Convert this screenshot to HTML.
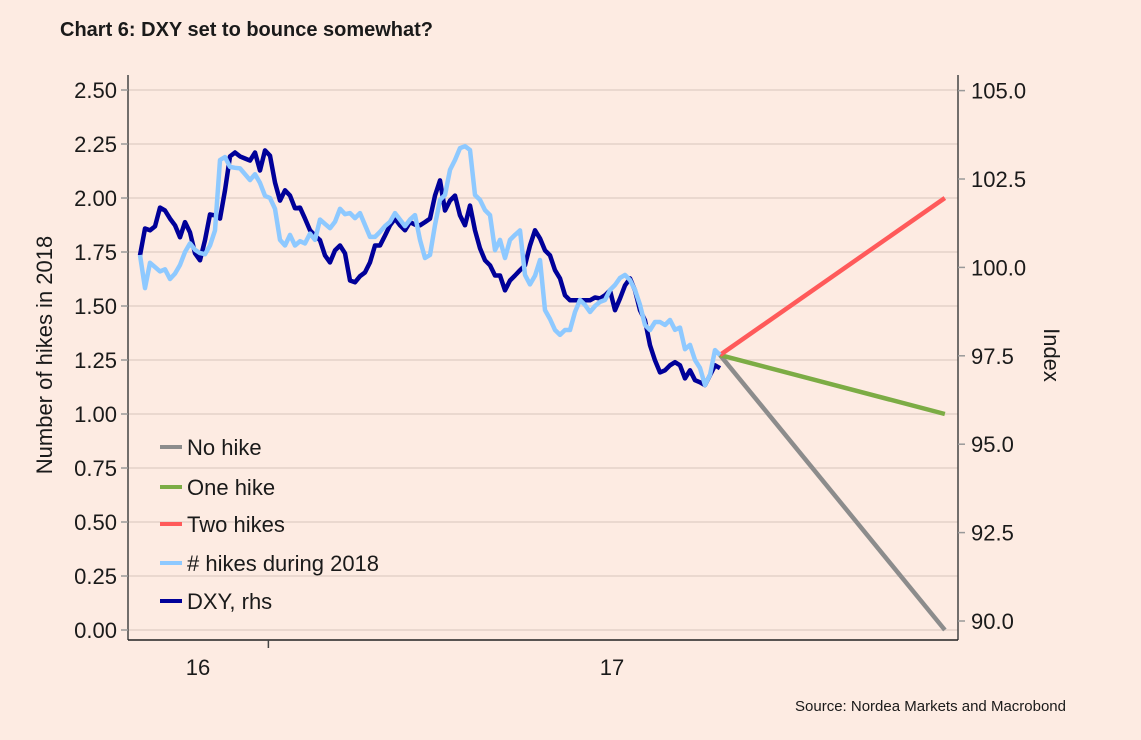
<!DOCTYPE html>
<html><head><meta charset="utf-8"><style>
body{margin:0;background:#fdebe2;}
svg text{font-family:"Liberation Sans",sans-serif;fill:#1a1a1a;}
</style></head><body>
<svg width="1141" height="735" viewBox="0 0 1141 735">
<rect width="1141" height="735" fill="#fdebe2"/>
<text x="60" y="36" font-size="20" font-weight="bold">Chart 6: DXY set to bounce somewhat?</text>
<g id="grid"></g>
<g id="lines"></g>
<line x1="128" y1="75" x2="128" y2="640" stroke="#444" stroke-width="1.5"/>
<line x1="958" y1="75" x2="958" y2="640" stroke="#444" stroke-width="1.5"/>
<line x1="128" y1="640" x2="958" y2="640" stroke="#222" stroke-width="1.5"/>
<g id="ticks"></g>
<text transform="translate(52,355) rotate(-90)" text-anchor="middle" font-size="22">Number of hikes in 2018</text>
<text transform="translate(1044,355) rotate(90)" text-anchor="middle" font-size="22">Index</text>
<g>
<g><line x1="160" y1="447" x2="182" y2="447" stroke="#8c8c8c" stroke-width="4"/><text x="187" y="455" font-size="22">No hike</text></g>
<g><line x1="160" y1="487" x2="182" y2="487" stroke="#7cac45" stroke-width="4"/><text x="187" y="495" font-size="22">One hike</text></g>
<g><line x1="160" y1="524" x2="182" y2="524" stroke="#ff5a5a" stroke-width="4"/><text x="187" y="532" font-size="22">Two hikes</text></g>
<g><line x1="160" y1="563" x2="182" y2="563" stroke="#8ec9ff" stroke-width="4"/><text x="187" y="571" font-size="22"># hikes during 2018</text></g>
<g><line x1="160" y1="601" x2="182" y2="601" stroke="#000099" stroke-width="4"/><text x="187" y="609" font-size="22">DXY, rhs</text></g>
</g>
<text x="1066" y="711" text-anchor="end" font-size="15">Source: Nordea Markets and Macrobond</text>
</svg>
<script>
const hikes=[1.736,1.583,1.70,1.68,1.66,1.67,1.625,1.65,1.69,1.75,1.79,1.76,1.745,1.74,1.78,1.85,2.176,2.19,2.144,2.14,2.137,2.11,2.083,2.11,2.07,2.01,2.00,1.95,1.806,1.78,1.829,1.78,1.80,1.79,1.835,1.806,1.90,1.88,1.86,1.89,1.95,1.925,1.93,1.907,1.93,1.875,1.82,1.82,1.843,1.87,1.89,1.93,1.90,1.87,1.90,1.921,1.806,1.722,1.736,1.875,1.991,2.014,2.13,2.176,2.231,2.24,2.222,2.014,1.991,1.944,1.921,1.759,1.806,1.722,1.806,1.829,1.85,1.644,1.60,1.64,1.713,1.481,1.44,1.389,1.366,1.389,1.389,1.472,1.528,1.505,1.472,1.500,1.519,1.528,1.574,1.597,1.630,1.644,1.620,1.574,1.505,1.412,1.389,1.426,1.426,1.412,1.435,1.39,1.40,1.30,1.32,1.25,1.213,1.134,1.181,1.296,1.273];
const dxy=[100.34,101.10,101.05,101.16,101.69,101.61,101.38,101.19,100.85,101.28,100.99,100.40,100.20,100.77,101.50,101.47,101.38,102.18,103.14,103.25,103.14,103.08,103.02,103.25,102.74,103.31,103.16,102.40,101.89,102.18,102.03,101.67,101.69,101.38,101.05,100.90,100.77,100.34,100.14,100.48,100.62,100.40,99.63,99.58,99.75,99.86,100.14,100.62,100.62,100.90,101.19,101.38,101.19,101.05,101.28,101.21,101.19,101.28,101.38,102.03,102.46,101.61,101.89,102.03,101.47,101.19,101.75,101.05,100.54,100.20,100.06,99.77,99.77,99.35,99.63,99.77,99.92,100.06,100.62,101.05,100.82,100.48,100.34,99.92,99.69,99.21,99.07,99.07,99.07,99.07,99.07,99.15,99.12,99.21,99.35,98.79,99.12,99.49,99.69,99.35,98.79,98.50,97.80,97.37,97.03,97.09,97.23,97.32,97.23,96.86,97.09,96.81,96.75,96.67,96.95,97.23,97.15];
const seriesStart=-0.140, seriesStep=0.012077;
const projStart=1.273, projEnd=1.804;
const projLabels=["no-hike","one-hike","two-hikes"];
const projValues=[0,1,2];
const leftTicks=[0,0.25,0.5,0.75,1,1.25,1.5,1.75,2,2.25,2.5];
const rightTicks=[90,92.5,95,97.5,100,102.5,105];
const xTicks=[0,1];
const xTickLabels=["16","17"];
const NS="http://www.w3.org/2000/svg";
const xs=t=>198+414*t;
const yl=v=>630-216*v;
const yr=v=>621-35.36*(v-90);
function mk(tag,attrs,parent){const e=document.createElementNS(NS,tag);for(const k in attrs)e.setAttribute(k,attrs[k]);document.getElementById(parent).appendChild(e);return e;}
leftTicks.forEach(v=>{
 const g=mk('line',{x1:128,x2:958,y1:yl(v),y2:yl(v),stroke:'#ead8cf','stroke-width':2},'grid');
 
 
 const t=mk('line',{x1:121,x2:128,y1:yl(v),y2:yl(v),stroke:'#999','stroke-width':1.5},'ticks');
 
 
 const l=mk('text',{x:117,y:yl(v)+8,'text-anchor':'end','font-size':22},'ticks');
 l.textContent=v.toFixed(2);
 
 
});
rightTicks.forEach(v=>{
 const t=mk('line',{x1:958,x2:965,y1:yr(v),y2:yr(v),stroke:'#999','stroke-width':1.5},'ticks');
 
 
 const l=mk('text',{x:971,y:yr(v)+8,'font-size':22},'ticks');
 l.textContent=v.toFixed(1);
 
 
});
xTicks.forEach((v,i)=>{
 const l=mk('text',{x:xs(v),y:675,'text-anchor':'middle','font-size':22},'ticks');
 l.textContent=xTickLabels[i];
 
 
});
const tk=mk('line',{x1:xs(0.17),x2:xs(0.17),y1:640,y2:648,stroke:'#444','stroke-width':1.5},'ticks');


const projCols=['#8c8c8c','#7cac45','#ff5a5a'];
const lastT=seriesStart+seriesStep*(hikes.length-1);
projValues.forEach((v,i)=>{
 const p=mk('line',{x1:xs(lastT),y1:yl(projStart),x2:xs(projEnd),y2:yl(v),stroke:projCols[i],'stroke-width':4.5},'lines');
 
 
});
function path(arr,ys){return arr.map((v,i)=>(i?'L':'M')+xs(seriesStart+seriesStep*i).toFixed(1)+','+ys(v).toFixed(1)).join('');}
const d=mk('path',{d:path(dxy,yr),fill:'none',stroke:'#000099','stroke-width':4.5,'stroke-linejoin':'round'},'lines');


const h=mk('path',{d:path(hikes,yl),fill:'none',stroke:'#8ec9ff','stroke-width':4.5,'stroke-linejoin':'round'},'lines');


</script>
</body></html>
